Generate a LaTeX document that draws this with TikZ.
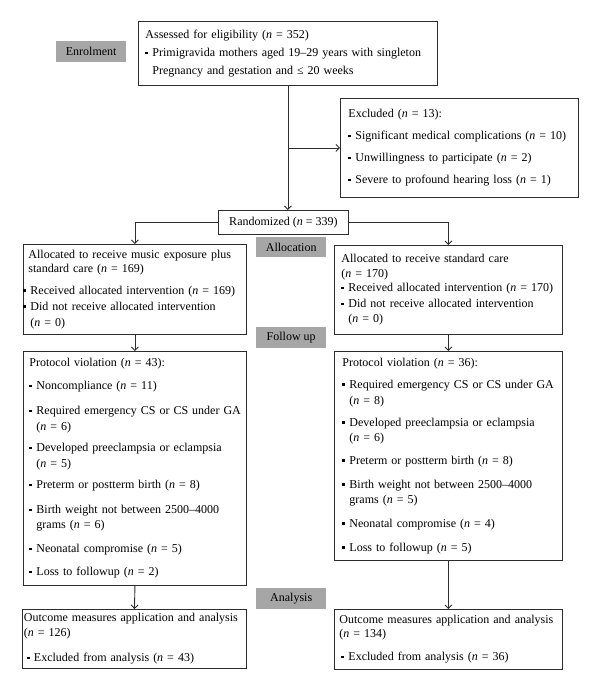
\documentclass[tikz,border=0pt]{standalone}
\usepackage{fontspec}
\setmainfont{Liberation Serif}
\usepackage{tikz}
\usetikzlibrary{arrows.meta,positioning}

\definecolor{labelgray}{RGB}{166,166,166}
\definecolor{linegray}{RGB}{45,45,45}
\newcommand{\bul}{\makebox[7pt][l]{\rule[2.4pt]{2.7pt}{2.7pt}}}
\newcommand{\ind}{\hspace*{7pt}}
\newcommand{\nn}[1]{(\textit{n} = #1)}

\begin{document}
\begin{tikzpicture}[x=1pt, y=-1pt,
  box/.style={draw=linegray, line width=0.9pt, anchor=north west, align=left,
    inner ysep=0pt, font=\fontsize{12}{14}\selectfont},
  phase/.style={fill=labelgray, anchor=north west, inner sep=0pt,
    minimum width=70pt, minimum height=21pt, font=\fontsize{12}{14}\selectfont},
  flow/.style={draw=linegray, line width=0.9pt, -{Straight Barb[length=3.5pt,width=7pt]}}]
\useasboundingbox (0,0) rectangle (600,693);

%\node [above] at (300, 5) {flow of participants};
\node [phase] (enrol) at (56, 41) {Enrolment};
\node [phase, minimum height=20pt] (alloc) at (256, 237) {Allocation};
\node [phase] (follow) at (256, 327) {Follow up};
\node [phase] (analysis) at (256, 588) {Analysis};

\node [box, inner xsep=7pt, text width=285pt, minimum height=64pt] (assess) at (138, 21)
  {Assessed for eligibility \nn{352}\\[4.5pt]
   \bul Primigravida mothers aged 19--29 years with singleton\\[4pt]
   \ind Pregnancy and gestation and ≤ 20 weeks};

\node [box, inner xsep=8pt, text width=222pt, minimum height=99pt] (excl) at (340, 98)
  {Excluded \nn{13}:\\[8pt]
   \bul Significant medical complications \nn{10}\\[8pt]
   \bul Unwillingness to participate \nn{2}\\[8pt]
   \bul Severe to profound hearing loss \nn{1}};

\node [box, align=center, inner xsep=0pt, minimum width=130pt, minimum height=24pt] (rand) at (218, 210)
  {Randomized \nn{339}};

\node [box, inner xsep=5pt, text width=213pt, minimum height=90pt] (lalloc) at (23, 244)
  {Allocated to receive music exposure plus\\
   standard care \nn{169}\\[8pt]
   \hspace*{-5pt}\bul Received allocated intervention \nn{169}\\[2pt]
   \hspace*{-5pt}\bul Did not receive allocated intervention\\[2pt]
   \hspace*{-5pt}\ind \nn{0}};

\node [box, inner xsep=7pt, text width=214pt, minimum height=89pt] (ralloc) at (334, 245)
  {Allocated to receive standard care\\[1pt]
   \nn{170}\\
   \bul Received allocated intervention \nn{170}\\[2pt]
   \bul Did not receive allocated intervention\\[1pt]
   \ind \nn{0}};

\node [box, inner xsep=6pt, text width=211pt, minimum height=234pt] (lprot) at (23, 351)
  {Protocol violation \nn{43}:\\[9pt]
   \bul Noncompliance \nn{11}\\[11pt]
   \mbox{\bul Required emergency CS or CS under GA}\\[2pt]
   \ind \nn{6}\\[7pt]
   \bul Developed preeclampsia or eclampsia\\[2pt]
   \ind \nn{5}\\[7pt]
   \bul Preterm or postterm birth \nn{8}\\[11pt]
   \bul Birth weight not between 2500--4000\\[1pt]
   \ind grams \nn{6}\\[10pt]
   \bul Neonatal compromise \nn{5}\\[9pt]
   \bul Loss to followup \nn{2}};

\node [box, inner xsep=8pt, text width=212pt, minimum height=209pt] (rprot) at (334, 351)
  {Protocol violation \nn{36}:\\[8pt]
   \mbox{\bul Required emergency CS or CS under GA}\\[2pt]
   \ind \nn{8}\\[8pt]
   \bul Developed preeclampsia or eclampsia\\[1pt]
   \ind \nn{6}\\[9pt]
   \bul Preterm or postterm birth \nn{8}\\[10pt]
   \bul Birth weight not between 2500--4000\\[1pt]
   \ind grams \nn{5}\\[10pt]
   \bul Neonatal compromise \nn{4}\\[10pt]
   \bul Loss to followup \nn{5}};

\node [box, inner xsep=1.5pt, text width=221pt, minimum height=59pt] (lout) at (22, 609)
  {Outcome measures application and analysis\\[1pt]
   \nn{126}\\[11pt]
   \hspace*{3pt}\bul Excluded from analysis \nn{43}};

\node [box, inner xsep=5pt, text width=218pt, minimum height=60pt] (rout) at (334, 609)
  {Outcome measures application and analysis\\
   \nn{134}\\[9pt]
   \hspace*{2pt}\bul Excluded from analysis \nn{36}};

\draw [flow] (assess.south) -- (assess.south |- rand.north);
\draw [flow] (assess.south |- excl.west) -- (excl.west);
\draw [flow] (rand.west) -| (lalloc.north);
\draw [flow] (rand.east) -| (ralloc.north);
\draw [flow] (lalloc.south) -- (lprot.north);
\draw [flow] (ralloc.south) -- (rprot.north);
\draw [flow] (lprot.south) -- (lout.north);
\draw [flow] (rprot.south) -- (rout.north);

\end{tikzpicture}
\end{document}
